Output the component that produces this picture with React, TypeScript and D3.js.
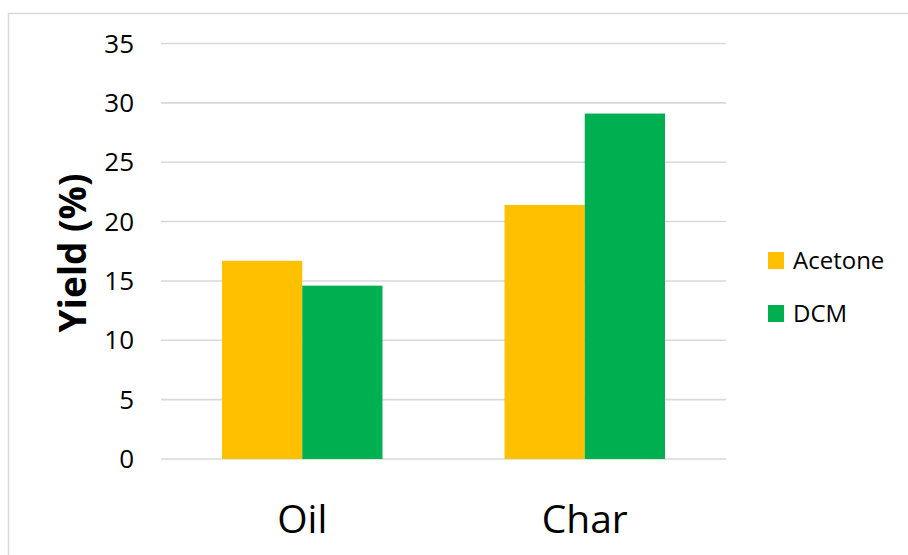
import React from "react";
import * as d3 from "d3";

const categories = ["Oil", "Char"];
const seriesNames = ["Acetone", "DCM"];
const acetoneValues = [16.7, 21.4];
const dcmValues = [14.6, 29.1];
const yTicks = [0, 5, 10, 15, 20, 25, 30, 35];
const colors = ["#FFC000", "#00B050"];

const W = 908;
const H = 555;
const FONT = "'Open Sans', 'DejaVu Sans', sans-serif";

export default function App() {
  const plot = { left: 161, right: 726, top: 43.5, bottom: 459 };
  const y = d3.scaleLinear().domain([0, 35]).range([plot.bottom, plot.top]);
  const x0 = d3
    .scaleBand<string>()
    .domain(categories)
    .range([plot.left, plot.right])
    .paddingInner(0.432)
    .paddingOuter(0.216);
  const x1 = d3.scaleBand<string>().domain(seriesNames).range([0, x0.bandwidth()]);
  const seriesValues = [acetoneValues, dcmValues];

  return (
    <svg
      width={W}
      height={H}
      style={{ position: "absolute", left: 0, top: 0, background: "#fff" }}
    >
      <path d={`M8.5,${H} V13.5 H${W}`} fill="none" stroke="#d9d9d9" strokeWidth={1.5} />
      {yTicks.map((t) => (
        <g key={t}>
          <line
            x1={plot.left}
            x2={plot.right}
            y1={y(t)}
            y2={y(t)}
            stroke="#d9d9d9"
            strokeWidth={1.6}
          />
          <text
            x={134}
            y={y(t)}
            dy="0.35em"
            textAnchor="end"
            fontFamily={FONT}
            fontSize={26}
            fill="#000"
          >
            {t}
          </text>
        </g>
      ))}
      {categories.map((c, ci) =>
        seriesNames.map((s, si) => {
          const v = seriesValues[si][ci];
          return (
            <rect
              key={c + s}
              x={(x0(c) as number) + (x1(s) as number)}
              y={y(v)}
              width={x1.bandwidth()}
              height={y(0) - y(v)}
              fill={colors[si]}
            />
          );
        })
      )}
      {categories.map((c) => (
        <text
          key={c}
          x={(x0(c) as number) + x0.bandwidth() / 2}
          y={533}
          textAnchor="middle"
          fontFamily={FONT}
          fontSize={39}
          fill="#000"
        >
          {c}
        </text>
      ))}
      <text
        transform="translate(86,253) rotate(-90)"
        textAnchor="middle"
        fontFamily={FONT}
        fontWeight="bold"
        fontSize={37}
        fill="#000"
      >
        Yield (%)
      </text>
      {seriesNames.map((s, i) => (
        <g key={s} transform={`translate(768,${252 + i * 53})`}>
          <rect x={0} y={0} width={16} height={17} fill={colors[i]} />
          <text x={25} y={17} fontFamily={FONT} fontSize={24} fill="#000">
            {s}
          </text>
        </g>
      ))}
    </svg>
  );
}
